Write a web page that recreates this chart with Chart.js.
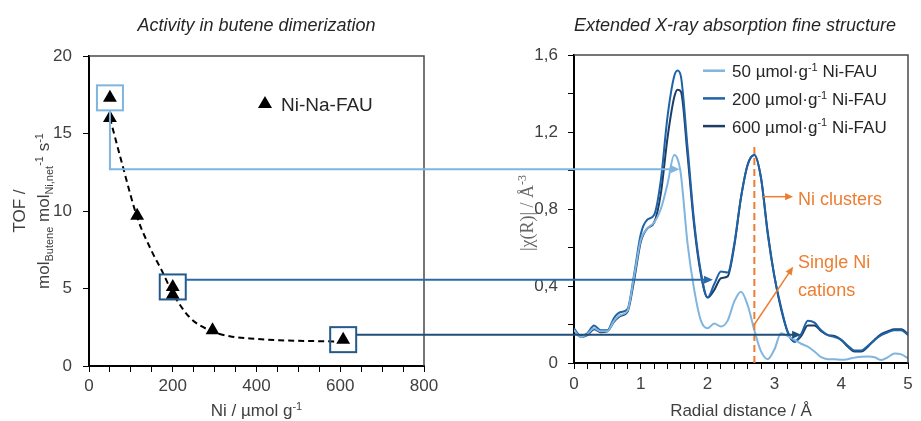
<!DOCTYPE html>
<html>
<head>
<meta charset="utf-8">
<script src="https://cdn.jsdelivr.net/npm/chart.js@4.4.1/dist/chart.umd.min.js"></script>
<style>
  body { margin: 0; background: #fff; }
  #wrap { position: relative; width: 921px; height: 421px; overflow: hidden; }
  canvas { position: absolute; top: 0; }
</style>
</head>
<body>
<div id="wrap">
  <canvas id="activityChart" width="460" height="421" style="left:0"></canvas>
  <canvas id="exafsChart" width="461" height="421" style="left:460px"></canvas>
  <canvas id="overlay" width="921" height="421" style="left:0"></canvas>
</div>
<script>
// left panel: TOF vs Ni loading
let niLoading = [50, 50, 115, 200, 200, 295, 607];
let tof = [17.3, 16.0, 9.7, 5.1, 4.6, 2.3, 1.7];
let fitLoading = [50, 81, 115, 149, 173, 200, 240, 288, 336, 400, 455, 535, 595];
let fitTof = [16.0, 12.85, 9.6, 7.45, 6.2, 4.7, 3.15, 2.3, 1.92, 1.75, 1.66, 1.61, 1.58];

// right panel: EXAFS |chi(R)|
let seriesLoadings = ['50', '200', '600'];
let radialDistance = [0, 0.1, 0.2, 0.3, 0.4, 0.5, 0.6, 0.7, 0.8, 0.9, 1.0, 1.1, 1.2, 1.3, 1.4, 1.5, 1.55, 1.6, 1.7, 1.8, 1.9,
  2.0, 2.1, 2.2, 2.3, 2.4, 2.5, 2.6, 2.7, 2.8, 2.9, 3.0, 3.1, 3.2, 3.3, 3.4, 3.5, 3.6, 3.7, 3.8, 3.9,
  4.0, 4.1, 4.2, 4.3, 4.4, 4.5, 4.6, 4.7, 4.8, 4.9, 5.0];
let chi50 = [0.17, 0.135, 0.15, 0.18, 0.165, 0.165, 0.22, 0.25, 0.27, 0.45, 0.64, 0.70, 0.73, 0.80, 0.93, 1.08, 1.06, 0.98, 0.62, 0.38, 0.22,
  0.18, 0.205, 0.19, 0.22, 0.32, 0.37, 0.30, 0.17, 0.06, 0.02, 0.07, 0.155, 0.14, 0.12, 0.10, 0.085, 0.06, 0.03, 0.02, 0.02,
  0.017, 0.02, 0.028, 0.033, 0.034, 0.03, 0.015, 0.03, 0.05, 0.045, 0.025];
let chi200 = [0.18, 0.14, 0.155, 0.195, 0.17, 0.17, 0.235, 0.265, 0.28, 0.46, 0.67, 0.745, 0.77, 0.95, 1.28, 1.49, 1.52, 1.49, 1.12, 0.73, 0.47,
  0.34, 0.41, 0.475, 0.47, 0.62, 0.86, 1.03, 1.08, 0.96, 0.67, 0.45, 0.29, 0.16, 0.11, 0.15, 0.22, 0.21, 0.17, 0.145, 0.135,
  0.12, 0.09, 0.065, 0.065, 0.09, 0.12, 0.145, 0.16, 0.17, 0.17, 0.145];
let chi600 = [0.17, 0.135, 0.145, 0.175, 0.16, 0.165, 0.215, 0.245, 0.265, 0.43, 0.63, 0.70, 0.73, 0.88, 1.17, 1.38, 1.42, 1.41, 1.08, 0.71, 0.46,
  0.34, 0.38, 0.44, 0.45, 0.61, 0.86, 1.03, 1.08, 0.96, 0.68, 0.45, 0.28, 0.16, 0.11, 0.14, 0.195, 0.195, 0.165, 0.145, 0.14,
  0.12, 0.085, 0.06, 0.06, 0.085, 0.12, 0.15, 0.165, 0.175, 0.175, 0.15];

// links between panels: highlighted samples (index in niLoading), level of the link in TOF units, arrow tip R
let linkSample = [0, 3, 6];
let linkTof = [12.7, 5.56, 2.02];
let linkTipR = [1.58, 2.08, 3.40];
let clusterR = 2.7;

const FONT = "'Liberation Sans', Arial, sans-serif";
const TICK_COLOR = '#404040';
const TEXT_COLOR = '#262626';
const ORANGE = '#ed7d31';
const seriesColors = ['#7fb5df', '#1f62a6', '#1b3d68'];
const linkColors = ['#7fb5df', '#2a6aa8', '#1f4e79'];
const boxColors = ['#7fb5df', '#24598c', '#24598c'];

Chart.defaults.font.family = FONT;

function drawRich(ctx, x, y, parts, size, align, family) {
    family = family || FONT;
    let small = Math.round(size * 0.65);
    let fontFor = p => (p[1] ? small : size) + 'px ' + family;
    let width = 0;
    parts.forEach(p => { ctx.font = fontFor(p); width += ctx.measureText(p[0]).width; });
    let cx = align === 'center' ? x - width / 2 : x;
    ctx.textAlign = 'left';
    ctx.textBaseline = 'alphabetic';
    parts.forEach(p => {
        ctx.font = fontFor(p);
        let dy = p[1] === 'sub' ? size * 0.25 : p[1] === 'sup' ? -size * 0.38 : 0;
        ctx.fillText(p[0], cx, y + dy);
        cx += ctx.measureText(p[0]).width;
    });
}

function arrow(ctx, x1, y1, x2, y2, color, width, head) {
    let ang = Math.atan2(y2 - y1, x2 - x1);
    ctx.strokeStyle = color;
    ctx.fillStyle = color;
    ctx.lineWidth = width;
    ctx.beginPath();
    ctx.moveTo(x1, y1);
    ctx.lineTo(x2 - Math.cos(ang) * head * 0.8, y2 - Math.sin(ang) * head * 0.8);
    ctx.stroke();
    ctx.beginPath();
    ctx.moveTo(x2, y2);
    ctx.lineTo(x2 - head * Math.cos(ang) + head * 0.45 * Math.sin(ang), y2 - head * Math.sin(ang) - head * 0.45 * Math.cos(ang));
    ctx.lineTo(x2 - head * Math.cos(ang) - head * 0.45 * Math.sin(ang), y2 - head * Math.sin(ang) + head * 0.45 * Math.cos(ang));
    ctx.closePath();
    ctx.fill();
}

function frame(ctx, a) {
    ctx.strokeStyle = '#4a4a4a';
    ctx.lineWidth = 1.5;
    ctx.beginPath();
    ctx.moveTo(a.left, a.top);
    ctx.lineTo(a.right, a.top);
    ctx.lineTo(a.right, a.bottom);
    ctx.stroke();
}

const activityDecor = {
    id: 'activityDecor',
    afterDraw(chart) {
        let ctx = chart.ctx, a = chart.chartArea;
        ctx.save();
        frame(ctx, a);
        ctx.fillStyle = TEXT_COLOR;
        ctx.font = 'italic 18px ' + FONT;
        ctx.textAlign = 'center';
        ctx.fillText('Activity in butene dimerization', (a.left + a.right) / 2, 31);

        // axis titles
        ctx.fillStyle = TICK_COLOR;
        drawRich(ctx, (a.left + a.right) / 2, 416, [['Ni / µmol g', ''], ['-1', 'sup']], 17, 'center');
        ctx.save();
        ctx.translate(25, (a.top + a.bottom) / 2);
        ctx.rotate(-Math.PI / 2);
        drawRich(ctx, 0, 0, [['TOF /', '']], 17, 'center');
        ctx.restore();
        ctx.save();
        ctx.translate(49, (a.top + a.bottom) / 2);
        ctx.rotate(-Math.PI / 2);
        drawRich(ctx, 0, 0, [['mol', ''], ['Butene', 'sub'], [' mol', ''], ['Ni,net', 'sub'], ['-1', 'sup'], [' s', ''], ['-1', 'sup']], 17, 'center');
        ctx.restore();

        // legend
        let ds = chart.data.datasets[0];
        let lx = a.left + 176, ly = a.top + 48;
        ctx.fillStyle = '#000';
        ctx.beginPath();
        ctx.moveTo(lx, ly - 8);
        ctx.lineTo(lx + 7, ly + 4);
        ctx.lineTo(lx - 7, ly + 4);
        ctx.closePath();
        ctx.fill();
        ctx.fillStyle = TEXT_COLOR;
        ctx.font = '19px ' + FONT;
        ctx.textAlign = 'left';
        ctx.fillText(ds.label, lx + 16, ly + 7);
        ctx.restore();
    }
};

const exafsDecor = {
    id: 'exafsDecor',
    afterDraw(chart) {
        let ctx = chart.ctx, a = chart.chartArea, sx = chart.scales.x, sy = chart.scales.y;
        ctx.save();
        frame(ctx, a);

        // cluster marker
        let cx = sx.getPixelForValue(clusterR);
        ctx.strokeStyle = ORANGE;
        ctx.lineWidth = 2;
        ctx.setLineDash([7, 4]);
        ctx.beginPath();
        ctx.moveTo(cx, sy.getPixelForValue(0));
        ctx.lineTo(cx, sy.getPixelForValue(1.13));
        ctx.stroke();
        ctx.setLineDash([]);
        arrow(ctx, sx.getPixelForValue(2.83), sy.getPixelForValue(0.864), sx.getPixelForValue(3.28), sy.getPixelForValue(0.864), ORANGE, 1.5, 8);
        arrow(ctx, cx, sy.getPixelForValue(0.2), sx.getPixelForValue(3.28), sy.getPixelForValue(0.5), ORANGE, 1.5, 8);
        ctx.fillStyle = ORANGE;
        ctx.font = '18px ' + FONT;
        ctx.textAlign = 'left';
        let tx = sx.getPixelForValue(3.28) + 5;
        ctx.fillText('Ni clusters', tx, sy.getPixelForValue(0.864) + 8);
        ctx.fillText('Single Ni', tx, sy.getPixelForValue(0.5) + 1);
        ctx.fillText('cations', tx, sy.getPixelForValue(0.5) + 29);

        // titles
        ctx.fillStyle = TEXT_COLOR;
        ctx.font = 'italic 18px ' + FONT;
        ctx.textAlign = 'center';
        ctx.fillText('Extended X-ray absorption fine structure', (a.left + a.right) / 2 - 6, 31);
        ctx.fillStyle = TICK_COLOR;
        drawRich(ctx, (a.left + a.right) / 2, 416, [['Radial distance / Å', '']], 17, 'center');
        ctx.save();
        ctx.fillStyle = '#666';
        ctx.translate(a.left - 41, (a.top + a.bottom) / 2 + 4);
        ctx.rotate(-Math.PI / 2);
        drawRich(ctx, 0, 0, [['|χ(R)| / Å', ''], ['-3', 'sup']], 18, 'center', "'Liberation Serif', 'Times New Roman', serif");
        ctx.restore();

        // legend
        chart.data.datasets.forEach((ds, i) => {
            let y = a.top + 15.7 + i * 27.7;
            ctx.strokeStyle = ds.borderColor;
            ctx.lineWidth = 2.5;
            ctx.beginPath();
            ctx.moveTo(a.left + 129, y);
            ctx.lineTo(a.left + 151, y);
            ctx.stroke();
            ctx.fillStyle = TEXT_COLOR;
            drawRich(ctx, a.left + 158, y + 6.6, [[seriesLoadings[i] + ' µmol·g', ''], ['-1', 'sup'], [' Ni-FAU', '']], 17, 'left');
        });
        ctx.restore();
    }
};

function axisStyle(extra) {
    return Object.assign({
        grid: { drawOnChartArea: false, drawTicks: true, tickLength: 6, tickColor: '#000', tickWidth: 1 },
        border: { display: true, color: '#000', width: 2 }
    }, extra);
}

let activity = new Chart(document.getElementById('activityChart'), {
    type: 'scatter',
    data: {
        datasets: [{
            type: 'scatter',
            label: 'Ni-Na-FAU',
            data: niLoading.map((x, i) => ({ x: x, y: tof[i] })),
            pointStyle: 'triangle',
            pointRadius: 8,
            backgroundColor: '#000',
            borderColor: '#000',
            borderWidth: 0
        }, {
            type: 'line',
            label: 'fit',
            data: fitLoading.map((x, i) => ({ x: x, y: fitTof[i] })),
            borderColor: '#000',
            borderWidth: 2,
            borderDash: [6, 4],
            pointRadius: 0,
            fill: false,
            cubicInterpolationMode: 'monotone'
        }]
    },
    options: {
        responsive: false,
        animation: false,
        layout: { padding: { top: 56, right: 36, bottom: 0, left: 0 } },
        plugins: { legend: { display: false }, tooltip: { enabled: false } },
        scales: {
            x: axisStyle({
                type: 'linear', min: 0, max: 800,
                afterFit: s => { s.height = 55; },
                ticks: { stepSize: 50, autoSkip: false, maxRotation: 0, padding: 4, color: TICK_COLOR, font: { size: 17 },
                    callback: v => v % 200 === 0 ? v : '' }
            }),
            y: axisStyle({
                min: 0, max: 20,
                afterFit: s => { s.width = 89; },
                ticks: { stepSize: 5, padding: 11, color: TICK_COLOR, font: { size: 17 } }
            })
        }
    },
    plugins: [activityDecor]
});

let exafs = new Chart(document.getElementById('exafsChart'), {
    type: 'line',
    data: {
        datasets: [chi50, chi200, chi600].map((vals, i) => ({
            label: seriesLoadings[i] + ' µmol·g-1 Ni-FAU',
            data: radialDistance.map((r, j) => ({ x: r, y: vals[j] })),
            borderColor: seriesColors[i],
            borderWidth: 2,
            pointRadius: 0,
            fill: false,
            cubicInterpolationMode: 'monotone'
        }))
    },
    options: {
        responsive: false,
        animation: false,
        layout: { padding: { top: 55, right: 13, bottom: 0, left: 0 } },
        plugins: { legend: { display: false }, tooltip: { enabled: false } },
        scales: {
            x: axisStyle({
                type: 'linear', min: 0, max: 5,
                afterFit: s => { s.height = 58; },
                ticks: { stepSize: 0.2, autoSkip: false, maxRotation: 0, padding: 5, color: TICK_COLOR, font: { size: 17 },
                    callback: v => Math.abs(v - Math.round(v)) < 1e-6 ? Math.round(v) : '' }
            }),
            y: axisStyle({
                min: 0, max: 1.6,
                afterFit: s => { s.width = 114; },
                ticks: { stepSize: 0.2, padding: 10, color: TICK_COLOR, font: { size: 17 },
                    callback: v => {
                        let k = v / 0.4;
                        if (Math.abs(k - Math.round(k)) > 1e-6) return '';
                        return v === 0 ? '0' : v.toFixed(1).replace('.', ',');
                    } }
            })
        }
    },
    plugins: [exafsDecor]
});

// boxes on the highlighted samples and arrows into the EXAFS panel
function drawLinks() {
    let ctx = document.getElementById('overlay').getContext('2d');
    let lx = activity.scales.x, ly = activity.scales.y;
    let rx = exafs.scales.x;
    let offset = document.getElementById('exafsChart').offsetLeft;
    linkSample.forEach((idx, i) => {
        let cx = lx.getPixelForValue(niLoading[idx]);
        let cy = ly.getPixelForValue(tof[idx]);
        ctx.strokeStyle = boxColors[i];
        ctx.lineWidth = 2;
        ctx.strokeRect(cx - 13, cy - 12.5, 26, 25);
        let yLevel = ly.getPixelForValue(linkTof[i]);
        let tip = offset + rx.getPixelForValue(linkTipR[i]);
        if (i === 0) {
            ctx.strokeStyle = linkColors[i];
            ctx.beginPath();
            ctx.moveTo(cx, cy + 12.5);
            ctx.lineTo(cx, yLevel);
            ctx.stroke();
            arrow(ctx, cx - 1, yLevel, tip, yLevel, linkColors[i], 2, 9);
        } else {
            arrow(ctx, cx + 13, yLevel, tip, yLevel, linkColors[i], 2, 9);
        }
    });
}
drawLinks();
</script>
</body>
</html>
